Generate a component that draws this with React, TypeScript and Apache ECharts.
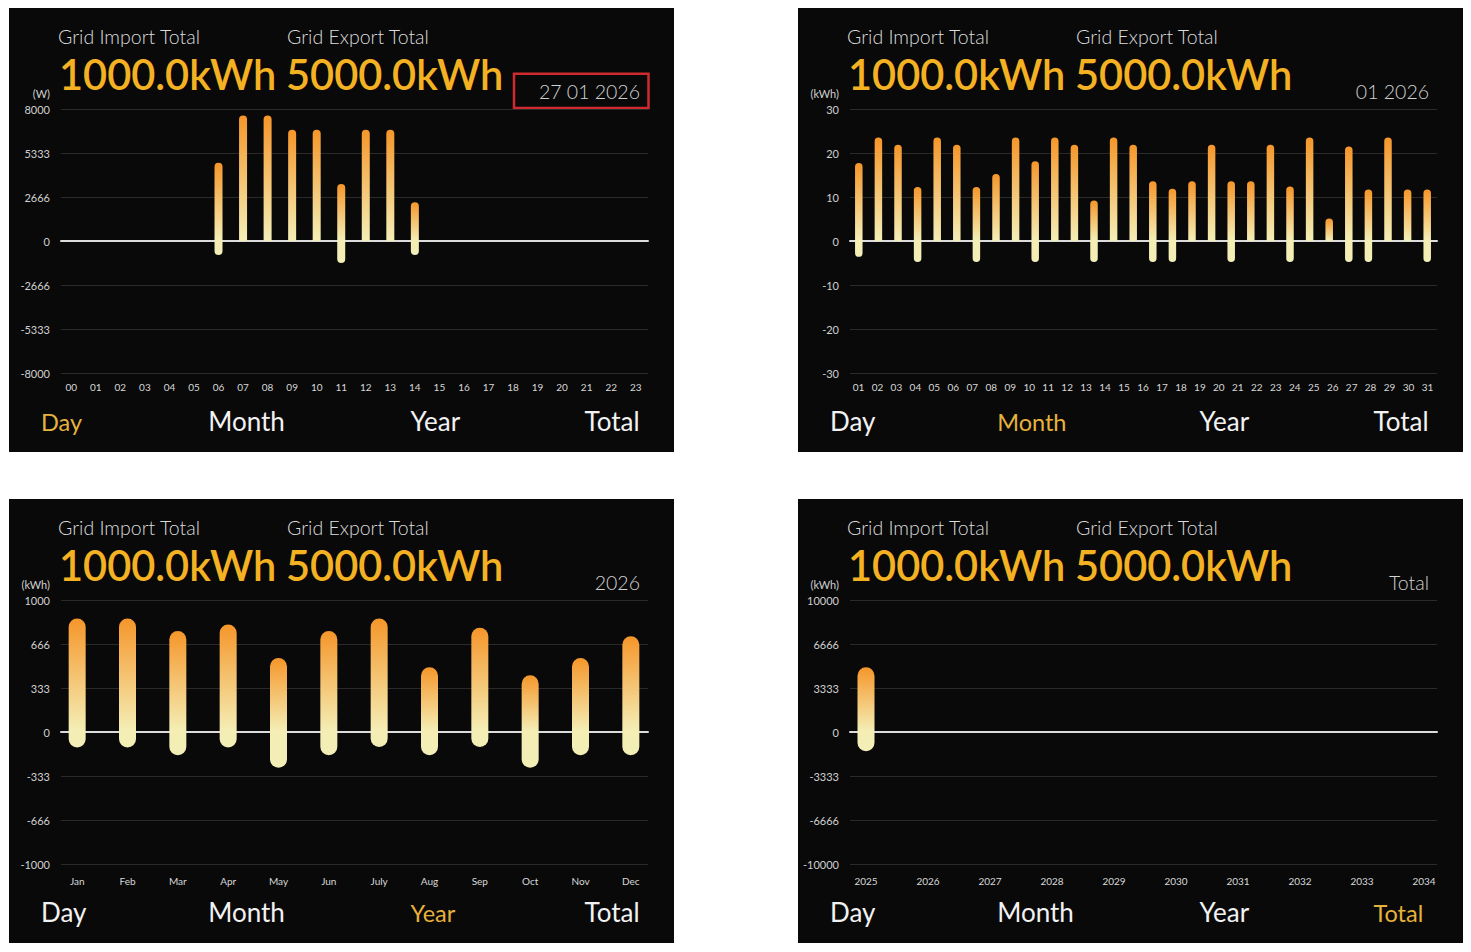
import React, { useEffect, useRef } from "react";
import * as echarts from "echarts";

const FONT = "Lato, 'Open Sans', sans-serif";

const tabNames = ["Day", "Month", "Year", "Total"];
const importTitle = "Grid Import Total";
const exportTitle = "Grid Export Total";
const importValue = "1000.0kWh";
const exportValue = "5000.0kWh";

// Day view (W)
const hourLabels = ["00","01","02","03","04","05","06","07","08","09","10","11","12","13","14","15","16","17","18","19","20","21","22","23"];
const dayImport = [0,0,0,0,0,0,4750,7600,7600,6750,6750,3450,6750,6750,2350,0,0,0,0,0,0,0,0,0];
const dayExport = [0,0,0,0,0,0,-850,0,0,0,0,-1330,0,0,-850,0,0,0,0,0,0,0,0,0];

// Month view (kWh)
const monthLabels = ["01","02","03","04","05","06","07","08","09","10","11","12","13","14","15","16","17","18","19","20","21","22","23","24","25","26","27","28","29","30","31"];
const monthBarDays = ["01","02","03","04","05","06","07","08","09","10","11","12","13","14","15","16","17","18","19","20","21","22","23","24","25","26","27","28","29","30"];
const monthImport = [17.7,23.5,21.9,12.3,23.5,21.9,12.3,15.2,23.5,18.1,23.5,21.9,9.2,23.5,21.9,13.6,11.9,13.6,21.9,13.6,13.6,21.9,12.4,23.5,5.1,21.5,11.7,23.5,11.7,11.7];
const monthExport = [-3.6,0,0,-4.8,0,0,-4.8,0,0,-4.8,0,0,-4.8,0,0,-4.8,-4.8,0,0,-4.8,0,0,-4.8,0,0,-4.8,-4.8,0,0,-4.8];

// Year view (kWh)
const yearLabels = ["Jan","Feb","Mar","Apr","May","Jun","July","Aug","Sep","Oct","Nov","Dec"];
const yearImport = [860,860,765,815,560,765,860,490,790,430,560,725];
const yearExport = [-118,-118,-177,-118,-270,-177,-114,-177,-114,-270,-177,-177];

// Total view (kWh)
const totalLabels = ["2025","2026","2027","2028","2029","2030","2031","2032","2033","2034"];
const totalImport = [4900,0,0,0,0,0,0,0,0,0];
const totalExport = [-1450,0,0,0,0,0,0,0,0,0];

const PANEL_W = 665;
const PANEL_H = 444;

const panels = [
  { x: 9, y: 8, date: "27 01 2026", unit: "(W)", yMax: 8000, labels: hourLabels, barCats: null, imp: dayImport, exp: dayExport, active: 0, barWidth: 8, barLeft: 50, barRight: 639, labelMargin: 9, highlight: true },
  { x: 798, y: 8, date: "01 2026", unit: "(kWh)", yMax: 30, labels: monthLabels, barCats: monthBarDays, imp: monthImport, exp: monthExport, active: 1, barWidth: 7.5, barLeft: 51, barRight: 639, labelMargin: 9, highlight: false },
  { x: 9, y: 499, date: "2026", unit: "(kWh)", yMax: 1000, labels: yearLabels, barCats: null, imp: yearImport, exp: yearExport, active: 2, barWidth: 17, barLeft: 43, barRight: 647, labelMargin: 12, highlight: false },
  { x: 798, y: 499, date: "Total", unit: "(kWh)", yMax: 10000, labels: totalLabels, barCats: null, imp: totalImport, exp: totalExport, active: 3, barWidth: 17, barLeft: 37, barRight: 657, labelMargin: 12, highlight: false },
];

const fmt = (v: number) => {
  const t = Math.trunc(Math.round(v * 1000) / 1000);
  return String(t === 0 ? 0 : t);
};

function buildOption(p: any) {
  const r = p.barWidth / 2;
  const hasSep = !!p.barCats;
  const barAxisIndex = hasSep ? 2 : 1;
  const yInterval = p.yMax / 3;
  const top = 101;
  const height = 264;

  const xAxis: any[] = [
    {
      gridIndex: 0, type: "category", data: p.labels,
      axisLine: { show: true, onZero: true, lineStyle: { color: "#dcdcdc", width: 2 } },
      axisTick: { show: false }, axisLabel: { show: false }, splitLine: { show: false },
    },
    {
      gridIndex: 1, type: "category", data: p.labels, position: "bottom",
      axisLine: { show: false, onZero: false }, axisTick: { show: false }, splitLine: { show: false },
      axisLabel: { interval: 0, color: "#d8d8d8", fontSize: 10, fontFamily: FONT, margin: p.labelMargin },
    },
  ];
  if (hasSep) {
    xAxis.push({ gridIndex: 1, type: "category", data: p.barCats, show: false, axisLine: { onZero: false } });
  }

  const tabEls = tabNames.map((name, i) => {
    const lefts = [32, 199.2, 401.6, 575.5];
    const act = i === p.active;
    return {
      type: "text", x: lefts[i], y: act ? 413.5 : 412.6,
      style: {
        text: name, fill: act ? "#e6b23c" : "#f2f2f2", fontSize: act ? 23.5 : 26,
        fontFamily: FONT, fontWeight: 400, align: "left", verticalAlign: "middle",
      },
    };
  });

  const graphicEls: any[] = [
    { type: "text", x: 49, y: 28.8, style: { text: importTitle, fill: "#dcdcdc", fontSize: 19.5, fontFamily: FONT, fontWeight: 300, align: "left", verticalAlign: "middle" } },
    { type: "text", x: 278, y: 28.8, style: { text: exportTitle, fill: "#dcdcdc", fontSize: 19.5, fontFamily: FONT, fontWeight: 300, align: "left", verticalAlign: "middle" } },
    { type: "text", x: 50, y: 65.6, style: { text: importValue, fill: "#f4b223", fontSize: 41.5, fontFamily: FONT, fontWeight: 600, align: "left", verticalAlign: "middle" } },
    { type: "text", x: 277, y: 65.6, style: { text: exportValue, fill: "#f4b223", fontSize: 41.5, fontFamily: FONT, fontWeight: 600, align: "left", verticalAlign: "middle" } },
    { type: "text", x: 631, y: 83, style: { text: p.date, fill: "#d0d0d0", fontSize: 19.5, fontFamily: FONT, fontWeight: 300, align: "right", verticalAlign: "middle" } },
    { type: "text", x: 41, y: 85, style: { text: p.unit, fill: "#d0d0d0", fontSize: 11, fontFamily: FONT, align: "right", verticalAlign: "middle" } },
    ...[26.7, 36.7, 47.3].map((yy) => ({
      type: "line", shape: { x1: 599, y1: yy, x2: 632, y2: yy },
      style: { stroke: "#f0f0f0", lineWidth: 2.2, shadowBlur: 4, shadowColor: "rgba(255,255,255,0.6)" },
    })),
    ...tabEls,
  ];
  if (p.highlight) {
    graphicEls.push({
      type: "rect", shape: { x: 505, y: 65.7, width: 134.5, height: 34.3 },
      style: { fill: "none", stroke: "#cf2a2e", lineWidth: 2.5 },
    });
  }

  return {
    animation: false,
    backgroundColor: "#09090a",
    textStyle: { fontFamily: FONT },
    grid: [
      { left: 52, right: PANEL_W - 639, top, height },
      { left: p.barLeft, right: PANEL_W - p.barRight, top, height },
    ],
    xAxis,
    yAxis: [
      {
        gridIndex: 0, type: "value", min: -p.yMax, max: p.yMax, interval: yInterval,
        axisLine: { show: false }, axisTick: { show: false },
        splitLine: { show: true, lineStyle: { color: "#2a2a2a", width: 1 } },
        axisLabel: { color: "#d0d0d0", fontSize: 11, fontFamily: FONT, margin: 11, formatter: fmt },
      },
      { gridIndex: 1, type: "value", min: -p.yMax, max: p.yMax, interval: yInterval, show: false },
    ],
    series: [
      {
        type: "bar", xAxisIndex: barAxisIndex, yAxisIndex: 1, data: p.imp, barWidth: p.barWidth, barGap: "-100%",
        silent: true,
        itemStyle: {
          color: new echarts.graphic.LinearGradient(0, 0, 0, 1, [
            { offset: 0, color: "#f5962a" },
            { offset: 1, color: "#f4efb7" },
          ]),
          borderRadius: [r, r, 0, 0],
        },
      },
      {
        type: "bar", xAxisIndex: barAxisIndex, yAxisIndex: 1, data: p.exp, barWidth: p.barWidth, barGap: "-100%",
        silent: true,
        itemStyle: {
          color: new echarts.graphic.LinearGradient(0, 0, 0, 1, [
            { offset: 0, color: "#f4eeb4" },
            { offset: 1, color: "#f2eeb6" },
          ]),
          borderRadius: [0, 0, r, r],
        },
      },
    ],
    graphic: { elements: graphicEls },
  };
}

function Panel({ p }: { p: any }) {
  const ref = useRef<HTMLDivElement>(null);
  useEffect(() => {
    if (!ref.current) return;
    const chart = echarts.init(ref.current, null, { renderer: "svg" });
    chart.setOption(buildOption(p));
    return () => chart.dispose();
  }, [p]);
  return (
    <div
      ref={ref}
      style={{ position: "absolute", left: p.x, top: p.y, width: PANEL_W, height: PANEL_H }}
    />
  );
}

export default function App() {
  return (
    <div style={{ position: "absolute", left: 0, top: 0, width: 1471, height: 952, background: "#ffffff" }}>
      {panels.map((p, i) => (
        <Panel key={i} p={p} />
      ))}
    </div>
  );
}
